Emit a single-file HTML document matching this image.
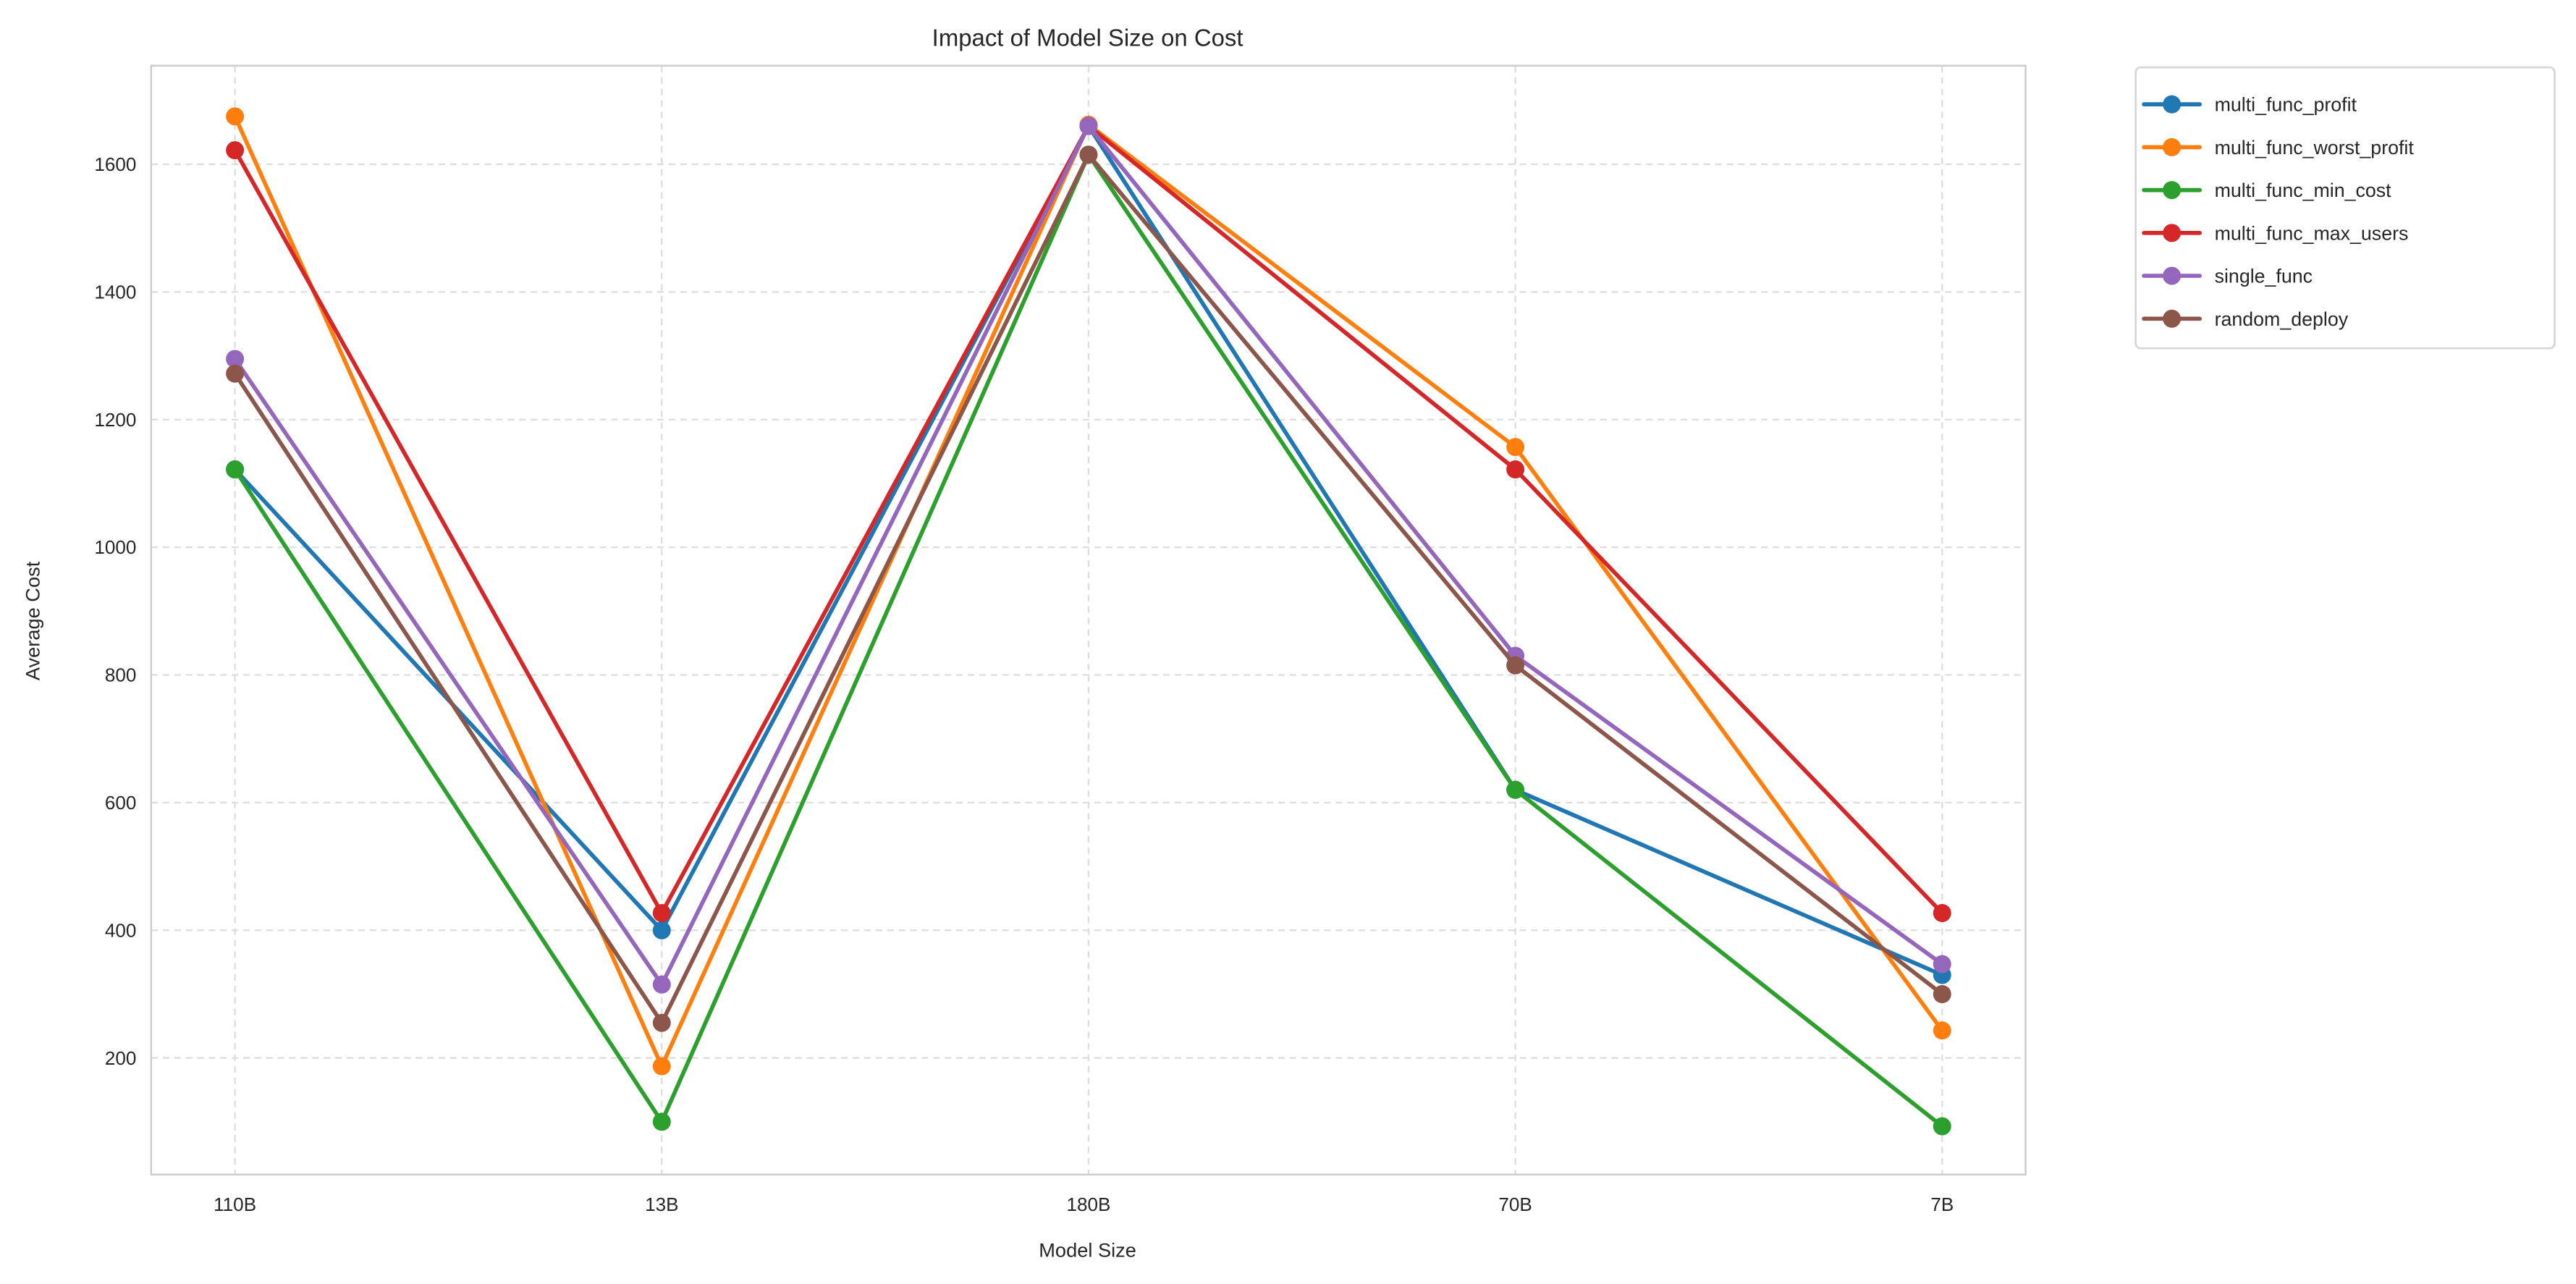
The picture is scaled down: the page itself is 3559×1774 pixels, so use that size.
<!DOCTYPE html>
<html><head><meta charset="utf-8"><style>
html,body{margin:0;padding:0;background:#fff;}
svg{display:block;font-family:"Liberation Sans","DejaVu Sans",sans-serif;}
</style></head><body>
<svg id="chart" width="3559" height="1774" viewBox="0 0 1568 781.6" xmlns="http://www.w3.org/2000/svg">
<rect x="0" y="0" width="1568" height="781.6" fill="#fff"/>
<text x="662" y="28" text-anchor="middle" font-size="14.5" fill="#262626">Impact of Model Size on Cost</text>
<g id="grid"></g>
<rect x="92" y="40" width="1141" height="675" fill="none" stroke="#cccccc" stroke-width="1.1"/>
<g id="ticks"></g>
<g id="series"></g>
<text x="662" y="765" text-anchor="middle" font-size="12" fill="#262626">Model Size</text>
<text x="24" y="378" text-anchor="middle" font-size="12" fill="#262626" transform="rotate(-90 24 378)">Average Cost</text>
<g id="legend"></g>
</svg>
<script>
const categories = ["110B","13B","180B","70B","7B"];
const yTicks = [200,400,600,800,1000,1200,1400,1600];
const seriesNames = ["multi_func_profit","multi_func_worst_profit","multi_func_min_cost","multi_func_max_users","single_func","random_deploy"];
const profitVals = [1122,400,1660,620,330];
const worstProfitVals = [1675,187,1662,1157,243];
const minCostVals = [1122,100,1615,620,93];
const maxUsersVals = [1622,427,1660,1122,427];
const singleFuncVals = [1295,315,1660,830,347];
const randomVals = [1272,255,1615,815,300];
const colors = ["#1f77b4","#ff7f0e","#2ca02c","#d62728","#9467bd","#8c564b"];
const allSeries = [profitVals,worstProfitVals,minCostVals,maxUsersVals,singleFuncVals,randomVals];

const NS="http://www.w3.org/2000/svg";
function xPos(i){return 143+i*259.8;}
function yPos(v){return 644-(v-200)*(544/1400);}
function mk(tag,attrs,parent){const e=document.createElementNS(NS,tag);for(const k in attrs)e.setAttribute(k,attrs[k]);parent.appendChild(e);return e;}
const grid=document.getElementById('grid'),ticks=document.getElementById('ticks'),ser=document.getElementById('series'),leg=document.getElementById('legend');
categories.forEach((c,i)=>{
  const l=mk('line',{x1:xPos(i),x2:xPos(i),y1:40,y2:715,stroke:'#dddddd','stroke-width':1,'stroke-dasharray':'4,3'},grid);
  
  
  const t=mk('text',{x:xPos(i),y:737,'text-anchor':'middle','font-size':11.5,fill:'#262626'},ticks);
  t.textContent=c;
  
  
});
yTicks.forEach(v=>{
  const l=mk('line',{x1:92,x2:1233,y1:yPos(v),y2:yPos(v),stroke:'#dddddd','stroke-width':1,'stroke-dasharray':'4,3'},grid);
  
  
  const t=mk('text',{x:83,y:yPos(v)+4,'text-anchor':'end','font-size':11.5,fill:'#262626'},ticks);
  t.textContent=v;
  
  
});
allSeries.forEach((vals,s)=>{
  const g=mk('g',{},ser);
  
  
  const pts=vals.map((v,i)=>xPos(i)+','+yPos(v)).join(' ');
  const pl=mk('polyline',{points:pts,fill:'none',stroke:colors[s],'stroke-width':2.5,'stroke-linejoin':'round'},g);
  
  
  vals.forEach((v,i)=>{
    const c=mk('circle',{cx:xPos(i),cy:yPos(v),r:5.5,fill:colors[s]},g);
    
    
  });
});
const lb=mk('rect',{x:1300,y:41,width:255,height:171,rx:3,fill:'#fff',stroke:'#d6d6d6','stroke-width':1.2},leg);


seriesNames.forEach((n,s)=>{
  const y=63.5+s*26.1;
  const g=mk('g',{},leg);
  
  
  mk('line',{x1:1305,x2:1339,y1:y,y2:y,stroke:colors[s],'stroke-width':2.5,'stroke-linecap':'round'},g);
  mk('circle',{cx:1322,cy:y,r:5.5,fill:colors[s]},g);
  const t=mk('text',{x:1348,y:y+4.2,'font-size':11.8,fill:'#262626'},g);
  t.textContent=n;
});
</script>
</body></html>
